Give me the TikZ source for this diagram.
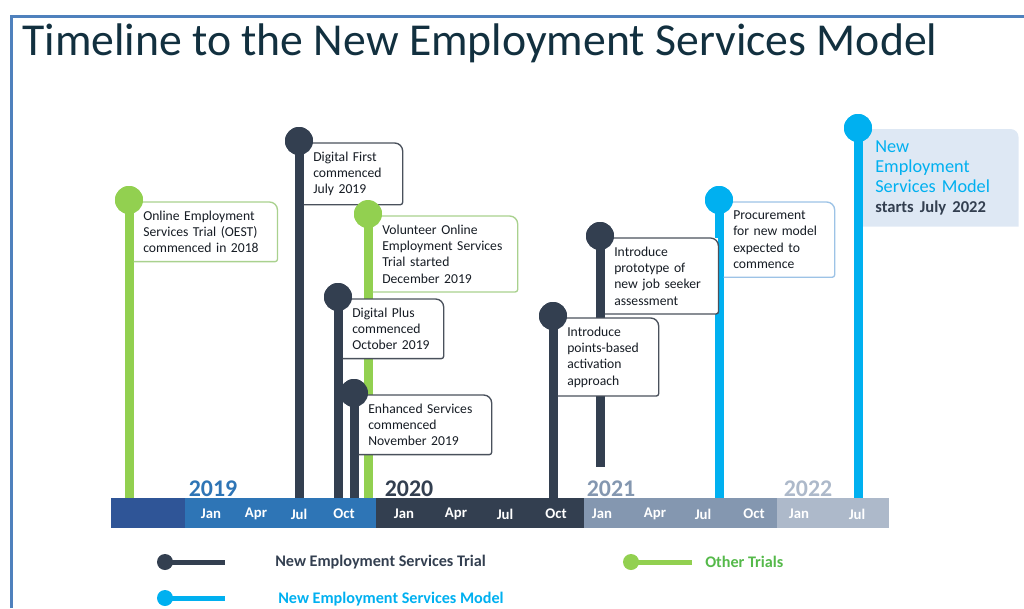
\documentclass[tikz,border=0pt]{standalone}
\usepackage{fontspec}
\setmainfont{Carlito}
\usepackage{tikz}
\usetikzlibrary{backgrounds}

\definecolor{framecol}{HTML}{4F81BD}
\definecolor{titlecol}{HTML}{12303F}
\definecolor{ntrial}{HTML}{333F50}
\definecolor{otrial}{HTML}{92D050}
\definecolor{nmodel}{HTML}{00B0F0}
\definecolor{notetext}{HTML}{161C24}
\definecolor{rimdark}{HTML}{4A515C}
\definecolor{rimgreen}{HTML}{A9D18E}
\definecolor{rimblue}{HTML}{9DC3E6}
\definecolor{modelfill}{HTML}{DEE8F4}
\definecolor{bar18}{HTML}{2F5597}
\definecolor{bar19}{HTML}{2E75B6}
\definecolor{bar20}{HTML}{333F50}
\definecolor{bar21}{HTML}{8497B0}
\definecolor{bar22}{HTML}{ADB9CA}
\definecolor{othergreen}{HTML}{55B94A}

\begin{document}
\begin{tikzpicture}[x=0.025cm, y=-0.025cm,
  dot/.style={circle, inner sep=0pt, minimum size=0.7cm},
  stem/.style={line width=0.225cm},
  note/.style={anchor=north west, xshift=0.1125cm, yshift=-0.05cm, fill=white,
    inner xsep=6.75pt, inner ysep=6pt, align=left, text=notetext,
    font=\fontsize{9.7}{11.6}\selectfont},
  rim/.style={line width=0.95pt},
  month/.style={text=white, inner sep=0pt, font=\bfseries\fontsize{10.5}{12}\selectfont},
  year/.style={anchor=base, inner sep=0pt, font=\bfseries\fontsize{17}{20}\selectfont},
  legend/.style={anchor=west, inner sep=0pt, font=\bfseries\fontsize{11.5}{14}\selectfont}]
\useasboundingbox (0,0) rectangle (1024,608);

\draw[framecol, line width=0.075cm] (11.5,608) -- (11.5,16.5) -- (1024,16.5);
\node[anchor=base west, inner sep=0pt, text=titlecol, font=\fontsize{32.5}{38}\selectfont] (title) at (22,55) {Timeline to the New Employment Services Model};

% time bar
\fill[bar18] (111,498) rectangle (185,528);
\fill[bar19] (185,498) rectangle (376,528);
\fill[bar20] (376,498) rectangle (584,528);
\fill[bar21] (584,498) rectangle (777,528);
\fill[bar22] (777,498) rectangle (889,528);
\coordinate (axis) at (0,498);

\foreach \m/\x in {Jan/211, Apr/256, Jul/299, Oct/344, Jan/404, Apr/456, Jul/505, Oct/556,
                   Jan/602, Apr/655, Jul/703, Oct/754, Jan/799, Jul/857}
  \node[month] (m\x) at (\x,514) {\m};

\node[year, text=bar19] (y2019) at (213,496) {2019};
\node[year, text=bar20] (y2020) at (409,496) {2020};
\node[year, text=bar21] (y2021) at (611,496) {2021};
\node[year, text=bar22] (y2022) at (808,496) {2022};

% milestones
\node[dot, fill=otrial] (oest) at (129,200) {};
\node[dot, fill=ntrial] (dfirst) at (299,141) {};
\node[dot, fill=otrial] (volun) at (368,214) {};
\node[dot, fill=ntrial] (dplus) at (338,297) {};
\node[dot, fill=ntrial] (enhan) at (354,393) {};
\node[dot, fill=ntrial] (points) at (553,316) {};
\node[dot, fill=ntrial] (proto) at (600,236) {};
\node[dot, fill=nmodel] (procure) at (719,200) {};
\node[dot, fill=nmodel] (nesm) at (858,128) {};
\coordinate (protoend) at (600,467);

\draw[stem, otrial] (oest.center) -- (oest |- axis);
\draw[stem, ntrial] (dfirst.center) -- (dfirst |- axis);
\draw[stem, otrial] (volun.center) -- (volun |- axis);
\draw[stem, ntrial] (dplus.center) -- (dplus |- axis);
\draw[stem, ntrial] (enhan.center) -- (enhan |- axis);
\draw[stem, ntrial] (points.center) -- (points |- axis);
\draw[stem, ntrial] (proto.center) -- (protoend);
\draw[stem, nmodel] (procure.center) -- (procure |- axis);
\draw[stem, nmodel] (nesm.center) -- (nesm |- axis);

\node[note, text width=3.11cm] (oestnote) at (oest.center) {Online Employment\\Services Trial (OEST)\\commenced in 2018};
\draw[rim, rimgreen] (oestnote.north west) [rounded corners=0.2cm] -- (oestnote.north east) [rounded corners=0.06cm] -- (oestnote.south east) [sharp corners] -- (oestnote.south west);

\node[note, text width=1.99cm] (dfirstnote) at (dfirst.center) {Digital First\\commenced\\July 2019};
\draw[rim, rimdark] (dfirstnote.north west) [rounded corners=0.2cm] -- (dfirstnote.north east) [rounded corners=0.06cm] -- (dfirstnote.south east) [sharp corners] -- (dfirstnote.south west);

\node[note, text width=3.14cm] (volunnote) at (volun.center) {Volunteer Online\\Employment Services\\Trial started\\December 2019};
\draw[rim, rimgreen] (volunnote.north west) [rounded corners=0.2cm] -- (volunnote.north east) [rounded corners=0.06cm] -- (volunnote.south east) [sharp corners] -- (volunnote.south west);

\node[note, text width=2.04cm] (dplusnote) at (dplus.center) {Digital Plus\\commenced\\October 2019};
\draw[rim, rimdark] (dplusnote.north west) [rounded corners=0.2cm] -- (dplusnote.north east) [rounded corners=0.06cm] -- (dplusnote.south east) [sharp corners] -- (dplusnote.south west);

\node[note, text width=2.84cm] (enhannote) at (enhan.center) {Enhanced Services\\commenced\\November 2019};
\draw[rim, rimdark] (enhannote.north west) [rounded corners=0.2cm] -- (enhannote.north east) [rounded corners=0.06cm] -- (enhannote.south east) [sharp corners] -- (enhannote.south west);

\node[note, text width=2.04cm] (pointsnote) at (points.center) {Introduce\\points-based\\activation\\approach};
\draw[rim, rimdark] (pointsnote.north west) [rounded corners=0.2cm] -- (pointsnote.north east) [rounded corners=0.06cm] -- (pointsnote.south east) [sharp corners] -- (pointsnote.south west);

\node[note, text width=2.36cm] (protonote) at (proto.center) {Introduce\\prototype of\\new job seeker\\assessment};
\draw[rim, rimdark] (protonote.north west) [rounded corners=0.2cm] -- (protonote.north east) [rounded corners=0.06cm] -- (protonote.south east) [sharp corners] -- (protonote.south west);

\node[note, text width=2.29cm] (procurenote) at (procure.center) {Procurement\\for new model\\expected to\\commence};
\draw[rim, rimblue] (procurenote.north west) [rounded corners=0.2cm] -- (procurenote.north east) [rounded corners=0.06cm] -- (procurenote.south east) [sharp corners] -- (procurenote.south west);

\node[note, fill=none, text width=3.26cm, minimum height=2.425cm, inner xsep=8.9pt, yshift=0.025cm,
  text=ntrial, font=\fontsize{13}{14.2}\selectfont] (nesmnote) at (nesm.center) {\textcolor{nmodel}{New}\\\textcolor{nmodel}{Employment}\\\textcolor{nmodel}{Services Model}\\{\bfseries\fontsize{11.8}{14.2}\selectfont starts July 2022}};
\begin{scope}[on background layer]
\fill[modelfill] (nesmnote.south west) -- (nesmnote.north west) [rounded corners=0.2cm] -- (nesmnote.north east) [sharp corners] -- (nesmnote.south east) -- cycle;
\end{scope}

% dots on top of the notes
\foreach \d/\c in {oest/otrial, dfirst/ntrial, volun/otrial, dplus/ntrial, enhan/ntrial,
                   points/ntrial, proto/ntrial, procure/nmodel, nesm/nmodel}
  \fill[\c] (\d.center) circle (14);

% legend
\node[dot, minimum size=0.4cm, fill=ntrial] (lgtrial) at (165,562) {};
\coordinate (lgtrialend) at (225,562);
\draw[ntrial, line width=0.125cm] (lgtrial.center) -- (lgtrialend);
\node[legend, text=ntrial] (lgtrialtxt) at (275,562) {New Employment Services Trial};

\node[dot, minimum size=0.4cm, fill=otrial] (lgother) at (631,562) {};
\coordinate (lgotherend) at (692,562);
\draw[otrial, line width=0.125cm] (lgother.center) -- (lgotherend);
\node[legend, text=othergreen] (lgothertxt) at (705,562) {Other Trials};

\node[dot, minimum size=0.4cm, fill=nmodel] (lgmodel) at (165,598) {};
\coordinate (lgmodelend) at (225,598);
\draw[nmodel, line width=0.125cm] (lgmodel.center) -- (lgmodelend);
\node[legend, text=nmodel] (lgmodeltxt) at (278,599) {New Employment Services Model};
\end{tikzpicture}
\end{document}
